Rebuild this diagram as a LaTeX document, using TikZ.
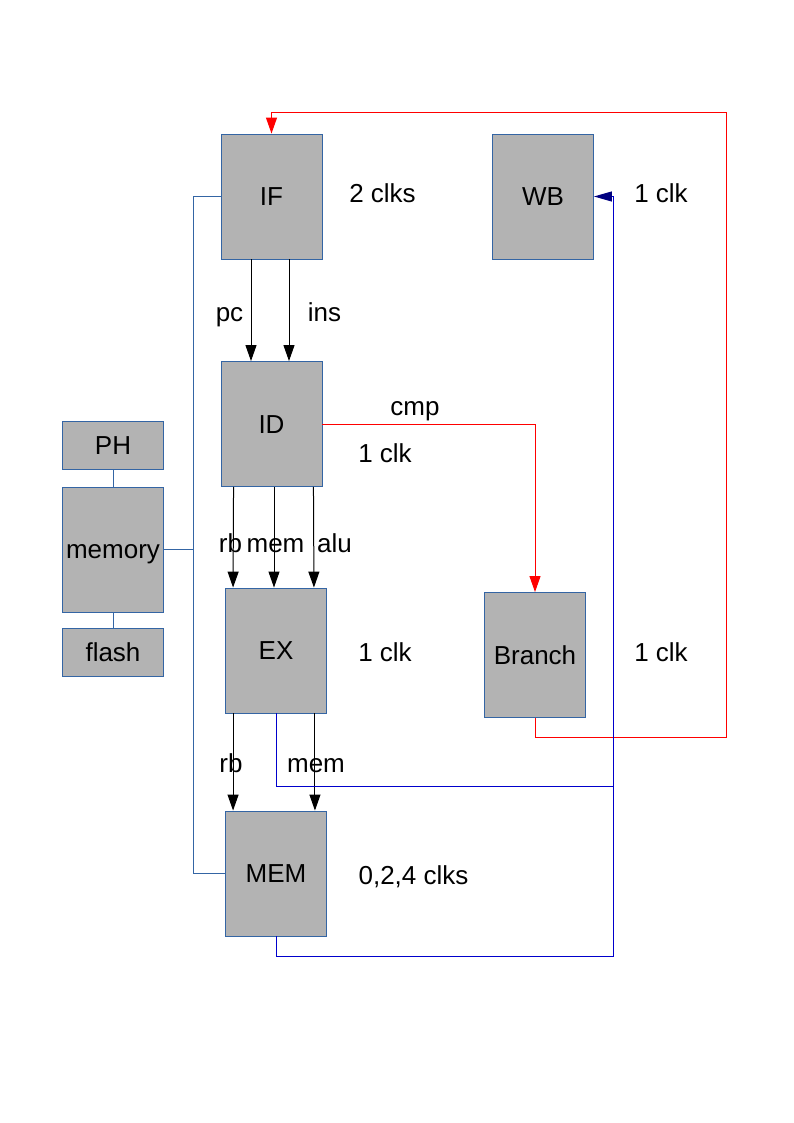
\documentclass[tikz,border=0pt]{standalone}
\usepackage{fontspec}
\setmainfont{Liberation Sans}
\usepackage{xcolor}
\usepackage{tikz}
\usetikzlibrary{arrows.meta, positioning}
\definecolor{boxgray}{HTML}{B3B3B3}
\definecolor{boxedge}{HTML}{3465A4}
\definecolor{wbblue}{HTML}{0000CC}
\definecolor{wbnavy}{HTML}{000080}
\tikzstyle{stage} = [rectangle, minimum width=101pt, minimum height=125pt, text centered, text height=18.5pt, text depth=0.5pt, draw=boxedge, fill=boxgray, line width=0.9pt]
\tikzstyle{smallbox} = [rectangle, minimum width=101pt, minimum height=48pt, text centered, text height=18.5pt, text depth=0.5pt, draw=boxedge, fill=boxgray, line width=0.9pt]
\tikzstyle{tag} = [inner sep=0pt, text height=18.5pt, text depth=0.5pt]
\tikzstyle{arrow} = [line width=1pt, -{Triangle[length=16pt, width=11pt]}]
\tikzstyle{redarrow} = [line width=1pt, red, -{Triangle[length=16pt, width=11pt]}]
\tikzstyle{wbarrow} = [line width=1pt, wbblue, -{Triangle[length=18pt, width=10pt, color=wbnavy]}]
\tikzstyle{wbline} = [line width=1pt, wbblue]
\tikzstyle{bus} = [line width=1pt, boxedge]

\begin{document}
\begin{tikzpicture}[x=1pt, y=1pt, font=\fontsize{26}{31}\selectfont]
\useasboundingbox (0,0) rectangle (794,-1123);

\node (IF) [stage] at (271.5,-196.5) {IF};
\node (WB) [stage] at (543,-196.5) {WB};
\node (ID) [stage] at (271.5,-424) {ID};
\node (EX) [stage] at (276,-650.5) {EX};
\node (Branch) [stage] at (535,-655) {Branch};
\node (MEM) [stage] at (276,-873.5) {MEM};
\node (PH) [smallbox] at (113,-445.5) {PH};
\node (memory) [stage] at (113,-549.5) {memory};
\node (flash) [smallbox] at (113,-652.5) {flash};

\coordinate (bus) at (193.5,-549.5);
\coordinate (loop) at (726,-113);
\coordinate (wbbus) at (613,-786);
\coordinate (membus) at (613,-956);

% memory bus
\draw [bus] (PH) -- (memory);
\draw [bus] (memory) -- (flash);
\draw [bus] (memory.east) -- (bus);
\draw [bus] (IF.west) -| (bus) |- (MEM.west);

% pipeline
\draw [arrow] ([xshift=-20.5pt]IF.south) -- ([xshift=-20.5pt]ID.north);
\draw [arrow] ([xshift=17.5pt]IF.south) -- ([xshift=17.5pt]ID.north);
\draw [arrow] ([xshift=13pt]ID.south west) -- ([xshift=8pt]EX.north west);
\draw [arrow] ([xshift=2.5pt]ID.south) -- ([xshift=-2pt]EX.north);
\draw [arrow] ([xshift=-9pt]ID.south east) -- ([xshift=-13pt]EX.north east);
\draw [arrow] ([xshift=8pt]EX.south west) -- ([xshift=8pt]MEM.north west);
\draw [arrow] ([xshift=-12pt]EX.south east) -- ([xshift=-12pt]MEM.north east);

% branch
\draw [redarrow] (ID.east) -| (Branch.north);
\draw [redarrow] (Branch.south) -- ++(0,-20) -| (loop) -| (IF.north);

% write back
\draw [wbarrow] (EX.south) |- (wbbus) |- (WB.east);
\draw [wbline] (MEM.south) |- (membus) -- (wbbus);

\node (pc) [tag] at (229.5,-312) {pc};
\node (ins) [tag] at (324.5,-312) {ins};
\node (rb1) [tag] at (230.5,-543) {rb};
\node (mem1) [tag] at (275.5,-543) {mem};
\node (alu) [tag] at (334.5,-543) {alu};
\node (rb2) [tag] at (231,-763) {rb};
\node (mem2) [tag] at (316,-763) {mem};
\node (cmp) [tag] at (415,-406) {cmp};

\node (tIF) [tag] at (382.5,-194) {2 clks};
\node (tWB) [tag] at (661,-194) {1 clk};
\node (tID) [tag] at (385,-453) {1 clk};
\node (tEX) [tag] at (385,-652) {1 clk};
\node (tBranch) [tag] at (661,-652) {1 clk};
\node (tMEM) [tag] at (413.5,-875) {0,2,4 clks};

\end{tikzpicture}
\end{document}
